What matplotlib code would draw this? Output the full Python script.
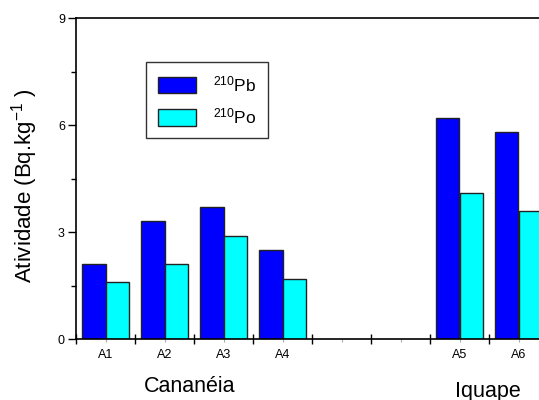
import numpy as np
import matplotlib
matplotlib.use('Agg')
from matplotlib import pyplot as plt
from matplotlib.ticker import FixedLocator

plt.rcParams['font.family'] = ['Liberation Sans', 'DejaVu Sans']
plt.rcParams['mathtext.fontset'] = 'custom'
plt.rcParams['mathtext.rm'] = 'Liberation Sans'
plt.rcParams['mathtext.it'] = 'Liberation Sans:italic'
plt.rcParams['mathtext.default'] = 'regular'

# sampling points (two empty slots between the regions)
labels = ['A1', 'A2', 'A3', 'A4', '', '', 'A5', 'A6']
pb210 = [2.1, 3.3, 3.7, 2.5, np.nan, np.nan, 6.2, 5.8]
po210 = [1.6, 2.1, 2.9, 1.7, np.nan, np.nan, 4.1, 3.6]

W, H = 539, 400
fig = plt.figure(figsize=(W / 100, H / 100), dpi=100)
# axes runs a little past the right edge of the image, as in the original
ax = fig.add_axes([76 / W, 1 - 339.3 / H, 472 / W, 321.3 / H])

x = np.arange(len(labels))
bw = 0.39
ax.bar(x - bw / 2, pb210, bw, color='#0000ff', edgecolor='#222222', linewidth=1, label='$^{210}$Pb')
ax.bar(x + bw / 2, po210, bw, color='#00ffff', edgecolor='#222222', linewidth=1, label='$^{210}$Po')

ax.set_xlim(-0.5, len(labels) - 0.5)
ax.set_ylim(0, 9)

ax.set_yticks([0, 3, 6, 9])
ax.yaxis.set_minor_locator(FixedLocator([1.5, 4.5, 7.5]))
ax.tick_params(axis='y', which='major', direction='out', length=6, width=1, labelsize=9, pad=2)
ax.tick_params(axis='y', which='minor', direction='out', length=3.5, width=1)

ax.set_xticks(np.arange(-0.5, len(labels), 1.0))
ax.set_xticklabels([])
ax.set_xticks(x, minor=True)
ax.set_xticklabels(labels, minor=True)
ax.tick_params(axis='x', which='major', direction='inout', length=7, width=1)
ax.tick_params(axis='x', which='minor', direction='out', length=2, width=0.8,
               color='#aaaaaa', labelsize=9, pad=5)

for side in ['left', 'bottom', 'top']:
    ax.spines[side].set_linewidth(1.2)
ax.spines['right'].set_visible(False)

fig.text(190 / W, 1 - 386 / H, 'Cananéia', fontsize=15.5, ha='center', va='center')
fig.text(488 / W, 1 - 391 / H, 'Iquape', fontsize=15.5, ha='center', va='center')
fig.text(25 / W, 1 - 186 / H, 'Atividade (Bq.kg$^{-1}$ )', fontsize=16,
         rotation=90, ha='center', va='center')

leg = ax.legend(loc='upper left', bbox_to_anchor=(146 / W, 1 - 62 / H),
                bbox_transform=fig.transFigure, fontsize=12.5, frameon=True,
                fancybox=False, shadow=False, handlelength=2.2, handleheight=1.1,
                handletextpad=0.95, labelspacing=0.7, borderpad=0.7, borderaxespad=0)
leg.get_frame().set_edgecolor('black')
leg.get_frame().set_linewidth(1)

fig.savefig('out.png', dpi=100)
